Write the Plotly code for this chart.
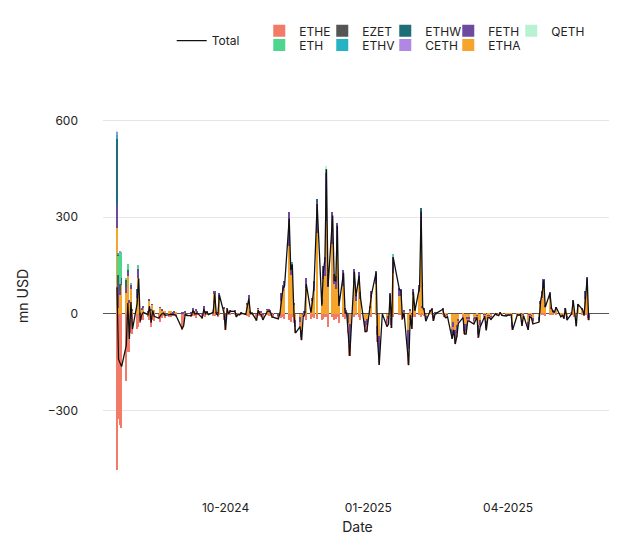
"""
Daily ETH ETF flows (mn USD), stacked by fund with total line.
"""

import pandas as pd
import plotly.graph_objects as go

HOLIDAYS = ["2024-09-02", "2024-11-28", "2024-12-25", "2025-01-01", "2025-01-09",
            "2025-01-20", "2025-02-17", "2025-04-18", "2025-05-26"]

# per-month daily flows (business days), mn USD
ETHE = (
    [-484, -327, -346, -356, -210, -120, -120]
    + [-60, -62, -47, -40, -23, -19, -18, -10, -20, -40, -20, -21, -14, -25, -13, -7, -10, -10, -9, -7, -8, -9]
    + [-52, -40, -7, -5, -10, -7, -7, -12, -5, -15, -8, -9, -1, -5, -5, -8, -3, -10, -5, -20]
    + [-25, -2, -3, -1, -4, -10, -3, -5, -2, -4, -8, -10, -5, -3, -21, -6, -8, -10, -15, -5, -6, -8, -12]
    + [-5, -8, -5, -12, -10, -15, -20, -25, -10, -30, -20, -15, -10, -5, -10, -20, -15, -10, -12, -15]
    + [-20, -15, -10, -10, -40, -10, -20, -15, -10, -30, -10, -15, -10, -30, -40, -10, -5, -10, -20, -15, -20]
    + [-5, -10, -5, -20, -30, 0, -10, -15, -5, -10, -10, -5, -5, -15, -10, -50, -20, -15, -10, -10]
    + [-5, -10, -5, -8, -10, 0, -5, -10, -5, -3, -5, -3, -5, -5, -10, -10, -15, -10, -5]
    + [-5, -10, -10, -5, -5, -8, -5, -3, -10, -8, -2, -8, -3, -3, -5, -2, -2, -3, 0, -2, -3]
    + [-2, -2, -1, -10, -1, -2, -1, -10, -2, -10, -3, -4, -8, -8, 0, -5, -5, -8, -3, -2, -4]
    + [0, -2, -3, -2, -5, 0, -5, -3, -2, -3, -10, 0, -2, -2, -5, -5, -5]
)
ETHA = (
    [266, 17, 58, 90, 65, 118, 34]
    + [76, 10, 48, 110, 4, 13, 20, 4, 40, 10, 29, 13, 0, 18, 11, 10, 8, 7, 8, 0, 5, 4]
    + [0, 0, 5, 0, 0, 11, 5, 10, 5, 0, 15, 5, 4, 0, 12, 60, 0, 3, 45, 15]
    + [0, 15, 2, 8, 10, 0, 1, 1, 3, 2, 28, 45, 5, 5, 0, 15, 6, 5, 0, 12, 10, 8, 0]
    + [-3, 0, 5, 40, 70, 80, 210, 120, 120, 30, -20, -10, -50, 2, 5, 80, 10, 40, 70, 250]
    + [30, 107, 117, 288, 84, 215, 93, 77, 203, 44, 87, 12, 8, 0, -31, 95, 39, 88, 47, -21, -15]
    + [20, 49, 93, -37, -69, 0, -15, -7, 45, -14, 127, 55, 56, 3, 8, -50, 11, -22, 58, 14]
    + [68, 247, 20, 13, -8, 7, 13, -7, 3, 3, 14, -3, -5, -2, -48, -25, -49, -36, -15]
    + [-4, -33, -33, -13, -13, -14, -10, -5, -34, -19, -3, -24, -5, -5, -8, 2, 0, -2, 2, -2, -2]
    + [-2, -1, -1, -25, -1, -2, -1, -18, -2, -25, -3, -4, -14, -10, 29, 49, 79, 23, 47, 15, 8]
    + [4, 17, -4, -2, -5, 12, -10, 3, 33, -4, -19, 20, 12, -2, 45, 85, 0]
)
FETH = (
    [71, 74, 17, 19, 19, 14, 8]
    + [12, 4, 24, 28, -5, 3, 2, 3, 4, 2, 1, 0, 0, 1, 2, -1, -3, 0, -2, 5, 1, 0]
    + [5, 3, 2, -1, 4, 7, 2, 2, 1, 2, 8, 4, 2, 2, -3, 10, 3, 2, 18, 6]
    + [-25, 2, 1, 1, 1, 0, 0, 0, 1, 0, 4, 12, 1, 0, 0, 2, 1, 2, -4, 1, 4, 4, 2]
    + [-3, -8, 0, 24, 20, 21, 105, 41, 36, 4, -20, -15, -22, -6, 4, 32, 8, 10, 32, 97]
    + [15, 40, 60, 150, 40, 100, 30, 40, 80, 10, 50, 5, 5, -30, -60, 45, 20, 40, 20, -20, -20]
    + [5, 20, 40, -30, -60, 0, -15, -10, 20, -20, 50, 25, 20, -5, 5, -60, 5, -10, 20, 5]
    + [20, 70, 5, 5, -5, 3, 5, -5, 2, 2, 5, -2, -3, -2, -20, -15, -30, -25, -10]
    + [-3, -20, -20, -5, -5, -10, -7, -3, -30, -15, -3, -20, -4, -4, -5, 0, -2, -1, 2, -1, -2]
    + [0, -1, -1, -15, -1, -1, 0, -10, -2, -15, -3, -4, -10, -8, 10, 20, 30, 5, 20, 5, 2]
    + [2, 5, -3, -1, -5, 5, -5, 0, 10, -3, -10, 10, 3, -1, 20, 30, -15]
)

# smaller funds: only the days with visible flows
ETHW = {"2024-07-23": 204, "2024-07-24": 30, "2024-07-25": 16, "2024-07-26": 3, "2024-07-29": 20,
        "2024-07-30": 3, "2024-08-05": 6, "2024-11-29": 8, "2025-02-04": 10, "2025-05-21": 5}
ETH = {"2024-07-23": 0, "2024-07-24": 60, "2024-07-25": 100, "2024-07-26": 80, "2024-07-29": 8,
       "2024-07-30": 18, "2024-08-01": 8, "2024-08-06": 12, "2024-12-05": 10, "2025-01-17": 8}
EZET = {"2024-07-23": 2, "2024-07-24": 2}
ETHV = {"2024-07-23": 11, "2024-07-24": 3, "2024-11-13": 6}
CETH = {"2024-07-23": 10, "2024-07-25": 2}
QETH = {"2024-07-23": 2, "2024-12-05": 10}

COLORS = {
    "ETHE": "#f27b68", "EZET": "#555555", "ETHW": "#1e6e78", "FETH": "#6c4a9e", "QETH": "#b9f2d2",
    "ETH": "#4fd68e", "ETHV": "#25b3c4", "CETH": "#b088e3", "ETHA": "#f6a52c",
}
LEGEND_ROW1 = ["ETHE", "EZET", "ETHW", "FETH", "QETH"]
LEGEND_ROW2 = ["ETH", "ETHV", "CETH", "ETHA"]
STACK_ORDER = ["ETHA", "FETH", "ETHW", "ETHE", "ETH", "EZET", "ETHV", "CETH", "QETH"]

dates = pd.bdate_range("2024-07-23", periods=len(ETHA), freq="C", holidays=HOLIDAYS)


def sparse(d):
    s = pd.Series({pd.Timestamp(k): v for k, v in d.items()}, dtype=float)
    return s.reindex(dates, fill_value=0.0)


flows = pd.DataFrame({"ETHE": ETHE, "ETHA": ETHA, "FETH": FETH}, index=dates)
for name, d in [("ETHW", ETHW), ("ETH", ETH), ("EZET", EZET), ("ETHV", ETHV), ("CETH", CETH), ("QETH", QETH)]:
    flows[name] = sparse(d)
total = flows.sum(axis=1)

fig = go.Figure()
for name in STACK_ORDER:
    row = LEGEND_ROW1 if name in LEGEND_ROW1 else LEGEND_ROW2
    fig.add_trace(go.Bar(x=dates, y=flows[name], name=name, marker_color=COLORS[name],
                         marker_line_width=0,
                         legend="legend2" if row is LEGEND_ROW1 else "legend3",
                         legendrank=row.index(name) + 1))
# empty trailing legend entries so the last name in each row is not clipped
for leg in ["legend2", "legend3"]:
    fig.add_trace(go.Scatter(x=[None], y=[None], mode="lines", name=" ", line=dict(width=0),
                             legend=leg, legendrank=99, hoverinfo="skip"))
fig.add_trace(go.Scatter(x=dates, y=total, mode="lines", name="Total",
                         line=dict(color="#111111", width=1.3), legend="legend"))

row_legend = dict(orientation="h", x=0.307, xanchor="left", yanchor="top",
                  entrywidth=18, entrywidthmode="pixels", traceorder="normal",
                  font=dict(size=12), bgcolor="rgba(0,0,0,0)", itemsizing="constant")

fig.update_layout(
    width=617,
    height=549,
    showlegend=True,
    barmode="relative",
    bargap=0,
    template="plotly_white",
    font=dict(family="Inter, Liberation Sans, sans-serif", size=12, color="#222222"),
    margin=dict(l=95, r=13, t=93, b=66, autoexpand=False),
    legend=dict(orientation="h", x=0.135, xanchor="left", y=1.192, yanchor="top", itemwidth=30,
                font=dict(size=12), bgcolor="rgba(0,0,0,0)"),
    legend2=dict(row_legend, y=1.217),
    legend3=dict(row_legend, y=1.181),
)
fig.update_xaxes(title_text="Date", range=["2024-07-14", "2025-06-07"],
                 tickvals=["2024-10-01", "2025-01-01", "2025-04-01"],
                 ticktext=["10-2024", "01-2025", "04-2025"], showgrid=False, zeroline=False,
                 ticklabelstandoff=8, title_standoff=8)
fig.update_yaxes(title_text="mn USD", range=[-550, 660], tickvals=[-300, 0, 300, 600],
                 gridcolor="#e6e6e6", zeroline=True, zerolinecolor="#555555", zerolinewidth=1,
                 ticklabelstandoff=24)

fig.write_html("out.html")
